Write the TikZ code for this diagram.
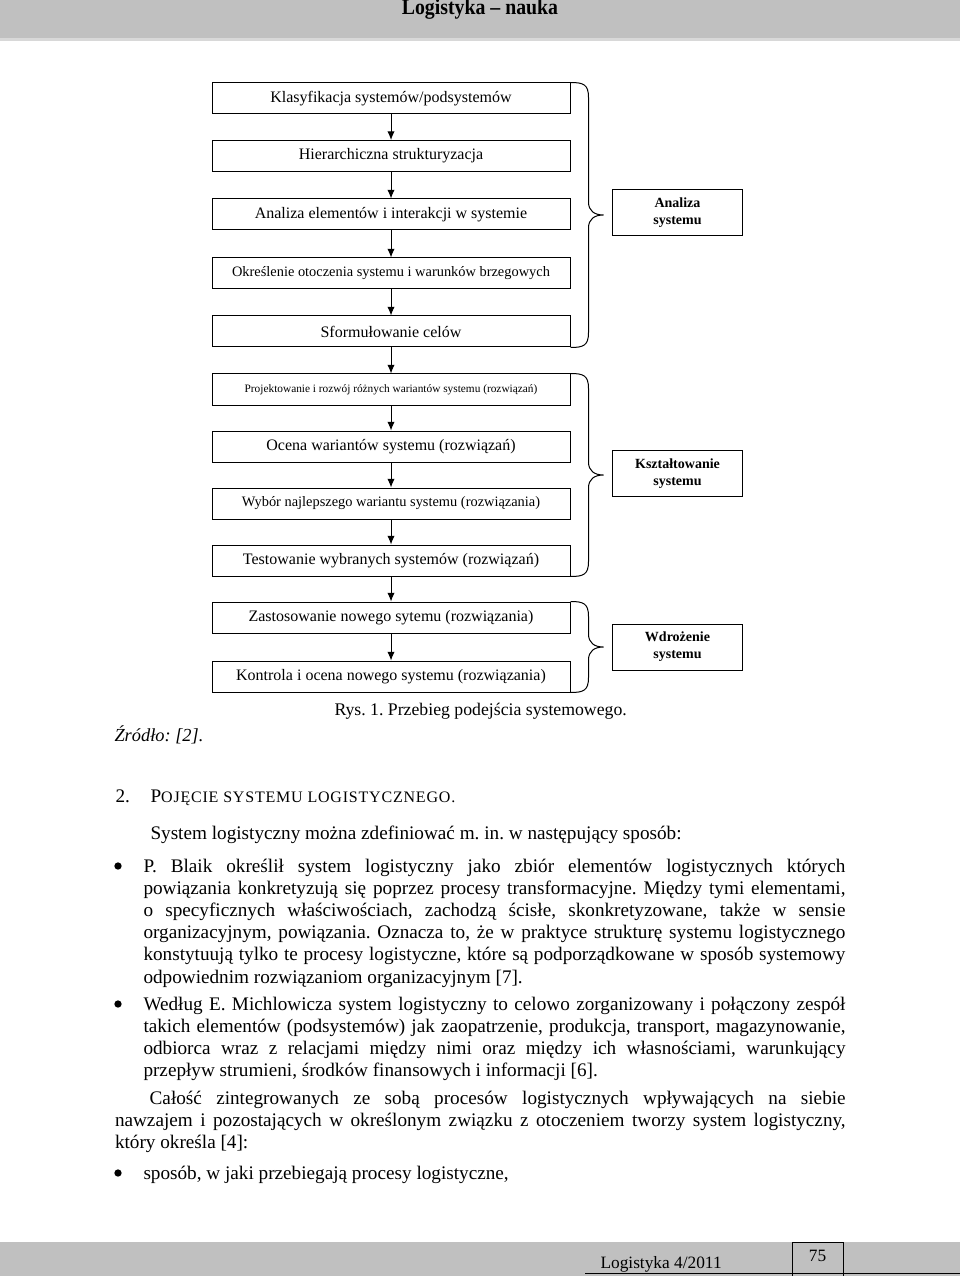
\documentclass[tikz,border=0pt]{standalone}
\usepackage{fontspec}
\setmainfont{Liberation Serif}
\newfontfamily\waski[FakeStretch=0.9]{Liberation Serif}
\usepackage{xcolor}
\usetikzlibrary{arrows.meta,calc}
\frenchspacing

\definecolor{pasek}{RGB}{192,192,192}
\definecolor{pasekjasny}{RGB}{216,216,216}

% klamra: od prawego gornego rogu #1 do prawego dolnego rogu #2
\newcommand{\klamra}[2]{%
  \path ($(#1.north east)!0.5!(#2.south east)$) coordinate (srodek);
  \draw (#1.north east) .. controls +(13,0) and +(0,-13) .. ($(#1.north east)+(18,15)$)
    -- ($(srodek)+(18,-13)$) .. controls +(0,9) and +(-9,0) .. ($(srodek)+(33,0)$)
    .. controls +(-9,0) and +(0,-9) .. ($(srodek)+(18,13)$)
    -- ($(#2.south east)+(18,-15)$) .. controls +(0,13) and +(13,0) .. (#2.south east);
}

\begin{document}
\begin{tikzpicture}[x=0.75pt, y=-0.75pt, line width=0.75pt, >={Latex[length=6.5pt,width=5.5pt]},
  krok/.style={draw, rectangle, minimum width=268.5pt, minimum height=23.25pt, inner sep=0pt, font=\fontsize{12}{14}\selectfont},
  faza/.style={draw, rectangle, minimum width=98pt, minimum height=34.5pt, inner sep=0pt, align=center, font=\fontsize{10.5}{12.75}\selectfont\bfseries},
  tekst/.style={inner sep=0pt, anchor=base west, font=\fontsize{14.4}{16.65}\selectfont},
  kropka/.style={circle, fill, inner sep=0pt, minimum size=5.5pt}]
\useasboundingbox (0,0) rectangle (960,1276);

% naglowek
\fill[pasek] (0,0) rectangle (960,38);
\fill[pasekjasny] (0,38) rectangle (960,41);
\node[inner sep=0pt, anchor=base, font=\fontsize{16.5}{18}\selectfont\waski\bfseries] (tytul) at (480,15) {Logistyka \textendash{} nauka};

% etapy
\node[krok] (klas) at (391,98.5) {Klasyfikacja systemów/podsystemów};
\node[krok] (hier) at (391,156) {Hierarchiczna strukturyzacja};
\node[krok] (elem) at (391,214.5) {Analiza elementów i interakcji w systemie};
\node[krok, font=\fontsize{10.8}{13}\selectfont] (otocz) at (391,273.5) {Określenie otoczenia systemu i warunków brzegowych};
\node[krok] (cele) at (391,331.5) {Sformułowanie celów};
\node[krok, font=\fontsize{8.5}{10}\selectfont] (proj) at (391,389.5) {Projektowanie i rozwój różnych wariantów systemu (rozwiązań)};
\node[krok] (ocena) at (391,446.5) {Ocena wariantów systemu (rozwiązań)};
\node[krok, font=\fontsize{10.8}{13}\selectfont] (wybor) at (391,503.5) {Wybór najlepszego wariantu systemu (rozwiązania)};
\node[krok] (test) at (391,560.5) {Testowanie wybranych systemów (rozwiązań)};
\node[krok] (zast) at (391,617.5) {Zastosowanie nowego sytemu (rozwiązania)};
\node[krok] (kontr) at (391,676.5) {Kontrola i ocena nowego systemu (rozwiązania)};

\node[faza] (analiza) at (677.5,213) {Analiza\\systemu};
\node[faza] (ksztalt) at (677.5,473.5) {Kształtowanie\\systemu};
\node[faza] (wdroz) at (677.5,647) {Wdrożenie\\systemu};

\draw[->] (klas) -- (hier);
\draw[->] (hier) -- (elem);
\draw[->] (elem) -- (otocz);
\draw[->] (otocz) -- (cele);
\draw[->] (cele) -- (proj);
\draw[->] (proj) -- (ocena);
\draw[->] (ocena) -- (wybor);
\draw[->] (wybor) -- (test);
\draw[->] (test) -- (zast);
\draw[->] (zast) -- (kontr);

\klamra{klas}{cele}
\klamra{proj}{test}
\klamra{zast}{kontr}

\node[tekst, font=\fontsize{13.3}{16}\selectfont] (rys) at (334,715) {Rys. 1. Przebieg podejścia systemowego.};
\node[tekst, font=\fontsize{13.8}{16.65}\selectfont\itshape] (zrodlo) at (114,741) {Źródło: [2].};

% tekst
\node[tekst] (nr) at (115,802) {2.};
\node[tekst] (rozdz) at (150,802) {P{\fontsize{12}{14}\selectfont\addfontfeature{LetterSpace=5}OJĘCIE SYSTEMU LOGISTYCZNEGO.}};
\node[tekst] (wstep) at (150,839) {System logistyczny można zdefiniować m. in. w następujący sposób:};

\node[kropka] (k1) at (118,866) {};
\node[tekst, text width=526.5pt, align=justify] (blaik) at (143,872) {P. Blaik określił system logistyczny jako zbiór elementów logistycznych których\linebreak
powiązania konkretyzują się poprzez procesy transformacyjne. Między tymi elementami,\linebreak
o specyficznych właściwościach, zachodzą ścisłe, skonkretyzowane, także w sensie\linebreak
organizacyjnym, powiązania. Oznacza to, że w praktyce strukturę systemu logistycznego\linebreak
konstytuują tylko te procesy logistyczne, które są podporządkowane w sposób systemowy\linebreak
odpowiednim rozwiązaniom organizacyjnym [7].};

\node[kropka] (k2) at (118,1004) {};
\node[tekst, text width=526.5pt, align=justify] (michl) at (143,1010) {Według E. Michlowicza system logistyczny to celowo zorganizowany i połączony zespół\linebreak
takich elementów (podsystemów) jak zaopatrzenie, produkcja, transport, magazynowanie,\linebreak
odbiorca wraz z relacjami między nimi oraz między ich własnościami, warunkujący\linebreak
przepływ strumieni, środków finansowych i informacji [6].};

\node[tekst, text width=548pt, align=justify] (calosc) at (114.5,1104) {\hspace*{26pt}Całość zintegrowanych ze sobą procesów logistycznych wpływających na siebie\linebreak
nawzajem i pozostających w określonym związku z otoczeniem tworzy system logistyczny,\linebreak
który określa [4]:};

\node[kropka] (k3) at (118,1173) {};
\node[tekst] (sposob) at (143,1179) {sposób, w jaki przebiegają procesy logistyczne,};

% stopka
\fill[pasek] (0,1242) rectangle (960,1276);
\draw (792,1277) |- (843,1242) -- (843,1277);
\node[inner sep=0pt, anchor=base, font=\fontsize{13}{15}\selectfont] (strona) at (817.5,1261) {75};
\node[tekst, font=\fontsize{13}{15}\selectfont] (stopka) at (600,1268) {Logistyka 4/2011};
\draw[line width=1pt] (585,1273.5) -- (960,1273.5);
\end{tikzpicture}
\end{document}
